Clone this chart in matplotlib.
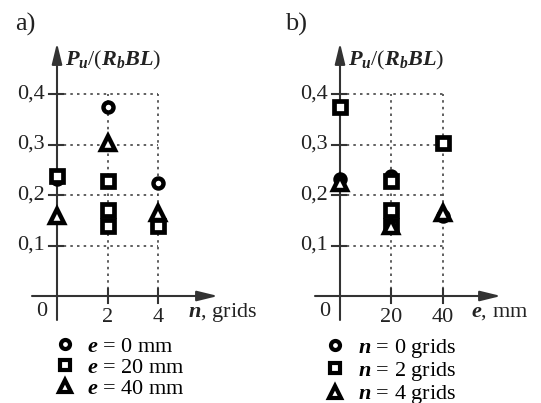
import matplotlib
matplotlib.use('Agg')
import matplotlib.pyplot as plt
from matplotlib.lines import Line2D

plt.rcParams['font.family'] = 'Liberation Serif'
plt.rcParams['mathtext.fontset'] = 'custom'
plt.rcParams['mathtext.it'] = 'Liberation Serif:italic:bold'
plt.rcParams['mathtext.rm'] = 'Liberation Serif'
plt.rcParams['mathtext.bf'] = 'Liberation Serif:bold'

# data: P_u/(R_b B L)
# panel a) x = n (grids), one series per e
n_ticks = [2, 4]
a_e0_n = [0, 2, 4]
a_e0_p = [0.232, 0.375, 0.224]
a_e20_n = [0, 2, 2, 2, 4]
a_e20_p = [0.237, 0.228, 0.170, 0.139, 0.139]
a_e40_n = [0, 2, 4]
a_e40_p = [0.158, 0.303, 0.164]

# panel b) x = e (mm), one series per n
e_ticks = [20, 40]
b_n0_e = [0, 20, 40]
b_n0_p = [0.232, 0.237, 0.158]
b_n2_e = [0, 20, 20, 20, 40]
b_n2_p = [0.375, 0.228, 0.170, 0.139, 0.303]
b_n4_e = [0, 20, 40]
b_n4_p = [0.224, 0.139, 0.164]

y_ticks = [0.1, 0.2, 0.3, 0.4]
y_labels = ['0,1', '0,2', '0,3', '0,4']

AX_COL = '#333333'
TXT_COL = '#222222'
FS = 16
KY = 505.0  # px per unit of P

mk = dict(c=dict(marker='o', ms=7.2, mew=3.2),
          s=dict(marker='s', ms=8.2, mew=3.4),
          t=dict(marker='^', ms=10.5, mew=3.2))
mk_leg = dict(c=dict(marker='o', ms=6.5, mew=3.0),
              s=dict(marker='s', ms=6.5, mew=3.0),
              t=dict(marker='^', ms=8, mew=3.0))


def draw_panel(ax, kx, series, xticks, xlabel, letter, leg_labels):
    # kx: pixels per x unit; offsets below are given in pixels
    px = lambda d: d / kx
    py = lambda d: d / KY
    xmax = xticks[-1]
    ymax = y_ticks[-1]

    # dotted grid box
    for y in y_ticks:
        ax.plot([0, xmax], [y, y], color='#444444', lw=1.2, ls=(0, (1.5, 2.5)), zorder=1)
    for x in xticks:
        ax.plot([x, x], [0, ymax], color='#444444', lw=1.2, ls=(0, (1.5, 2.5)), zorder=1)

    # axes with arrows
    arrow = dict(arrowstyle='-|>,head_length=0.9,head_width=0.22',
                 color=AX_COL, lw=1.5, mutation_scale=14, shrinkA=0, shrinkB=0)
    ax.annotate('', xy=(px(161), 0), xytext=(px(-25), 0), arrowprops=arrow, zorder=2)
    ax.annotate('', xy=(0, py(253)), xytext=(0, py(-24)), arrowprops=arrow, zorder=2)

    # ticks
    for y, lab in zip(y_ticks, y_labels):
        ax.plot([px(-8), px(6)], [y, y], color=AX_COL, lw=1.5, zorder=2)
        ax.text(px(-12), y, lab, ha='right', va='center', fontsize=FS, color=TXT_COL)
    for x in xticks:
        ax.plot([x, x], [py(-7), py(7)], color=AX_COL, lw=1.5, zorder=2)
        ax.text(x, py(-21), str(x), ha='center', va='center', fontsize=FS, color=TXT_COL)
    ax.text(px(-15), py(-16), '0', ha='center', va='center', fontsize=FS, color=TXT_COL)

    ax.text(px(131), py(-17), xlabel, ha='left', va='center', fontsize=FS, color=TXT_COL)
    ax.text(px(8), py(236), r'$P_u/(R_bBL)$', ha='left', va='center', fontsize=FS, color=TXT_COL)
    ax.text(0.055, 0.94, letter, transform=ax.transAxes, ha='left', va='center',
            fontsize=FS + 3, color=TXT_COL)

    # data markers
    for (xs, ys, key, z) in series:
        ax.plot(xs, ys, ls='none', mfc='white', mec='black', zorder=z, clip_on=False, **mk[key])
    handles = [Line2D([], [], ls='none', mfc='white', mec='black', **mk_leg[key])
               for key in ['c', 's', 't']]

    ax.legend(handles, leg_labels, loc='upper left', bbox_to_anchor=(0.2, 0.165),
              frameon=False, fontsize=FS, handlelength=1.0, handletextpad=0.5,
              labelspacing=0.02, borderpad=0, borderaxespad=0)


fig = plt.figure(figsize=(5.41, 4.03), dpi=100)
W, H = 541.0, 403.0

ax1 = fig.add_axes([0, 0, 270 / W, 1])
kx1 = 25.25
ax1.set_xlim(-57 / kx1, 213 / kx1)
ax1.set_ylim(-107 / KY, 296 / KY)
ax1.axis('off')
draw_panel(ax1, kx1,
           [(a_e0_n, a_e0_p, 'c', 3), (a_e40_n, a_e40_p, 't', 4), (a_e20_n, a_e20_p, 's', 5)],
           n_ticks, r'$n$, grids', 'a)',
           [r'$e$ = 0 mm', r'$e$ = 20 mm', r'$e$ = 40 mm'])

ax2 = fig.add_axes([270 / W, 0, 271 / W, 1])
kx2 = 2.5625
ax2.set_xlim(-70 / kx2, 201 / kx2)
ax2.set_ylim(-107 / KY, 296 / KY)
ax2.axis('off')
draw_panel(ax2, kx2,
           [(b_n0_e, b_n0_p, 'c', 3), (b_n2_e, b_n2_p, 's', 4), (b_n4_e, b_n4_p, 't', 5)],
           e_ticks, r'$e$, mm', 'b)',
           [r'$n$ = 0 grids', r'$n$ = 2 grids', r'$n$ = 4 grids'])

fig.savefig('out.png', dpi=100)
